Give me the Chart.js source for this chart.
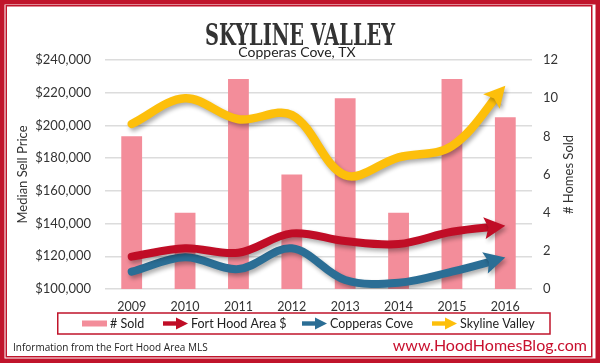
<!DOCTYPE html>
<html><head><meta charset="utf-8">
<script src="https://cdn.jsdelivr.net/npm/chart.js@4.4.0/dist/chart.umd.min.js"></script>
<style>html,body{margin:0;padding:0;background:#fff;}canvas{display:block;}</style>
</head><body>
<canvas id="c" width="600" height="363"></canvas>
<script>
// ---- data ----
const years = ['2009','2010','2011','2012','2013','2014','2015','2016'];
const homesSold = [8, 4, 11, 6, 10, 4, 11, 9];
const fortHoodArea = [119800, 124900, 122200, 134000, 129300, 127500, 135000, 138700];
const copperasCove = [110600, 119400, 112200, 124900, 105500, 103800, 110600, 119200];
const skylineValley = [200900, 216600, 203800, 206400, 169500, 180500, 187400, 224300];
const seriesNames = ['# Sold', 'Fort Hood Area $', 'Copperas Cove', 'Skyline Valley'];
const priceTicks = [100000, 120000, 140000, 160000, 180000, 200000, 220000, 240000];
const soldTicks = [0, 2, 4, 6, 8, 10, 12];
const chartTitle = 'SKYLINE VALLEY';
const chartSubtitle = 'Copperas Cove, TX';
const leftAxisTitle = 'Median Sell Price';
const rightAxisTitle = '# Homes Sold';
const sourceNote = 'Information from the Fort Hood Area MLS';
const siteUrl = 'www.HoodHomesBlog.com';

// ---- styles ----
const RED_FRAME = '#c0142b';
const PINK = '#f38d9a';
const C_RED = '#c00d26';
const C_BLUE = '#2b6e95';
const C_YELLOW = '#fdbf0b';
const TXT = '#333333';
const FONT = 'Lato';

const arrowPlugin = {
  id: 'arrowEnds',
  beforeDatasetDraw(chart, args) {
    const ds = chart.data.datasets[args.index];
    if (ds.type !== 'line') return;
    const ctx = chart.ctx;
    const pts = args.meta.data;
    const last = pts[pts.length - 1];
    let dx = last.x - last.cp1x, dy = last.y - last.cp1y;
    const len = Math.hypot(dx, dy) || 1;
    const ux = dx / len, uy = dy / len, px = -uy, py = ux;
    const L = 16;
    const bx = last.x - ux * L, by = last.y - uy * L;
    args.meta._arrow = {tx: last.x, ty: last.y, ux, uy, px, py, bx, by};
    ctx.save();
    ctx.beginPath();
    ctx.rect(0, 0, chart.width, chart.height);
    ctx.moveTo(bx + px * 40, by + py * 40);
    ctx.lineTo(bx + px * 40 + ux * 60, by + py * 40 + uy * 60);
    ctx.lineTo(bx - px * 40 + ux * 60, by - py * 40 + uy * 60);
    ctx.lineTo(bx - px * 40, by - py * 40);
    ctx.closePath();
    ctx.clip('evenodd');
    ctx.shadowColor = 'rgba(0,0,0,0.32)';
    ctx.shadowOffsetX = 2;
    ctx.shadowOffsetY = 3;
    ctx.shadowBlur = 4;
  },
  afterDatasetDraw(chart, args) {
    const ds = chart.data.datasets[args.index];
    if (ds.type !== 'line') return;
    const ctx = chart.ctx;
    ctx.restore();
    const a = args.meta._arrow;
    const W = 11, back = 21;
    const b2x = a.tx - a.ux * back, b2y = a.ty - a.uy * back;
    ctx.save();
    ctx.shadowColor = 'rgba(0,0,0,0.32)';
    ctx.shadowOffsetX = 2;
    ctx.shadowOffsetY = 3;
    ctx.shadowBlur = 4;
    ctx.fillStyle = ds.borderColor;
    ctx.beginPath();
    ctx.moveTo(a.tx, a.ty);
    ctx.lineTo(b2x + a.px * W, b2y + a.py * W);
    ctx.lineTo(a.tx - a.ux * 17, a.ty - a.uy * 17);
    ctx.lineTo(b2x - a.px * W, b2y - a.py * W);
    ctx.closePath();
    ctx.fill();
    ctx.restore();
  }
};

const decorPlugin = {
  id: 'decor',
  beforeDraw(chart) {
    const ctx = chart.ctx;
    ctx.save();
    ctx.fillStyle = '#ffffff';
    ctx.fillRect(0, 0, chart.width, chart.height);
    ctx.strokeStyle = RED_FRAME;
    ctx.lineWidth = 4.5;
    ctx.strokeRect(2.25, 2.25, chart.width - 4.5, chart.height - 4.5);
    ctx.lineWidth = 1.5;
    ctx.strokeRect(6.25, 5.75, 585.5, 351);
    ctx.restore();
  },
  afterDraw(chart) {
    const ctx = chart.ctx;
    const area = chart.chartArea;
    ctx.save();
    // title
    ctx.fillStyle = TXT;
    ctx.font = 'bold 30px "DejaVu Serif"';
    ctx.textBaseline = 'alphabetic';
    ctx.textAlign = 'left';
    const tw = ctx.measureText(chartTitle).width;
    const target = 190;
    ctx.save();
    ctx.translate(300 - target / 2, 45);
    ctx.scale(target / tw, 1);
    ctx.fillText(chartTitle, 0, 0);
    ctx.restore();
    // subtitle
    ctx.font = '14px ' + FONT;
    ctx.fillStyle = '#222';
    ctx.textAlign = 'center';
    ctx.textBaseline = 'middle';
    ctx.fillText(chartSubtitle, 297, 52);
    // axis titles
    const cy = (area.top + area.bottom) / 2;
    ctx.font = '13px ' + FONT;
    ctx.fillStyle = TXT;
    [[23, leftAxisTitle], [569, rightAxisTitle]].forEach(([x, t]) => {
      ctx.save();
      ctx.translate(x, cy);
      ctx.rotate(-Math.PI / 2);
      ctx.fillText(t, 0, 0);
      ctx.restore();
    });
    // legend box
    ctx.strokeStyle = RED_FRAME;
    ctx.lineWidth = 1.5;
    ctx.strokeRect(57.75, 313, 492.25, 21);
    const starts = [82, 163, 302, 432];
    const ly = 323.5;
    ctx.font = '12.5px ' + FONT;
    ctx.textAlign = 'left';
    ctx.fillStyle = '#222';
    chart.data.datasets.forEach((ds, i) => {
      const x = starts[i];
      if (ds.type === 'line') {
        ctx.fillStyle = ds.borderColor;
        ctx.fillRect(x, ly - 2.2, 14, 4.4);
        ctx.beginPath();
        ctx.moveTo(x + 25, ly);
        ctx.lineTo(x + 13, ly - 6);
        ctx.lineTo(x + 13, ly + 6);
        ctx.closePath();
        ctx.fill();
      } else {
        ctx.fillStyle = ds.backgroundColor;
        ctx.fillRect(x, ly - 3, 25, 6);
      }
      ctx.fillStyle = '#222';
      ctx.fillText(ds.label, x + 28, ly + 0.5);
    });
    // footer
    ctx.font = '10px "Open Sans"';
    ctx.fillStyle = '#222';
    ctx.fillText(sourceNote, 13, 348);
    ctx.font = '16px ' + FONT;
    ctx.fillStyle = '#c8102e';
    ctx.textAlign = 'right';
    ctx.fillText(siteUrl, 587, 346);
    ctx.restore();
  }
};

new Chart(document.getElementById('c'), {
  type: 'bar',
  data: {
    labels: years,
    datasets: [
      { type: 'bar', label: seriesNames[0], data: homesSold, yAxisID: 'y1',
        backgroundColor: PINK, barPercentage: 0.39, categoryPercentage: 1.0, order: 4 },
      { type: 'line', label: seriesNames[1], data: fortHoodArea, yAxisID: 'y',
        borderColor: C_RED, backgroundColor: C_RED, borderWidth: 8, tension: 0.35,
        pointRadius: 0, borderCapStyle: 'round', fill: false, order: 2 },
      { type: 'line', label: seriesNames[2], data: copperasCove, yAxisID: 'y',
        borderColor: C_BLUE, backgroundColor: C_BLUE, borderWidth: 8, tension: 0.35,
        pointRadius: 0, borderCapStyle: 'round', fill: false, order: 3 },
      { type: 'line', label: seriesNames[3], data: skylineValley, yAxisID: 'y',
        borderColor: C_YELLOW, backgroundColor: C_YELLOW, borderWidth: 8.5, tension: 0.35,
        pointRadius: 0, borderCapStyle: 'round', fill: false, order: 1 }
    ]
  },
  options: {
    responsive: false,
    animation: false,
    devicePixelRatio: 1,
    layout: { padding: { top: 60, left: 0, right: 0, bottom: 0 } },
    plugins: { legend: { display: false }, tooltip: { enabled: false }, title: { display: false } },
    scales: {
      x: {
        grid: { display: false },
        border: { display: false },
        ticks: { color: TXT, font: { family: FONT, size: 12.5 }, padding: 2, maxRotation: 0 },
        afterFit(s) { s.height = 74; }
      },
      y: {
        position: 'left',
        min: priceTicks[0], max: priceTicks[priceTicks.length - 1],
        afterBuildTicks(s) { s.ticks = priceTicks.map(v => ({ value: v })); },
        grid: { color: '#dcdcdc', lineWidth: 1.5, drawTicks: false },
        border: { display: false },
        ticks: { color: TXT, font: { family: FONT, size: 13 }, padding: 14,
          callback: v => '$' + Number(v).toLocaleString('en-US') },
        afterFit(s) { s.width = 105; }
      },
      y1: {
        position: 'right',
        min: soldTicks[0], max: soldTicks[soldTicks.length - 1],
        afterBuildTicks(s) { s.ticks = soldTicks.map(v => ({ value: v })); },
        grid: { display: false, drawTicks: false },
        border: { display: false },
        ticks: { color: TXT, font: { family: FONT, size: 13 }, padding: 11 },
        afterFit(s) { s.width = 68; }
      }
    }
  },
  plugins: [decorPlugin, arrowPlugin]
});
</script>
</body></html>
